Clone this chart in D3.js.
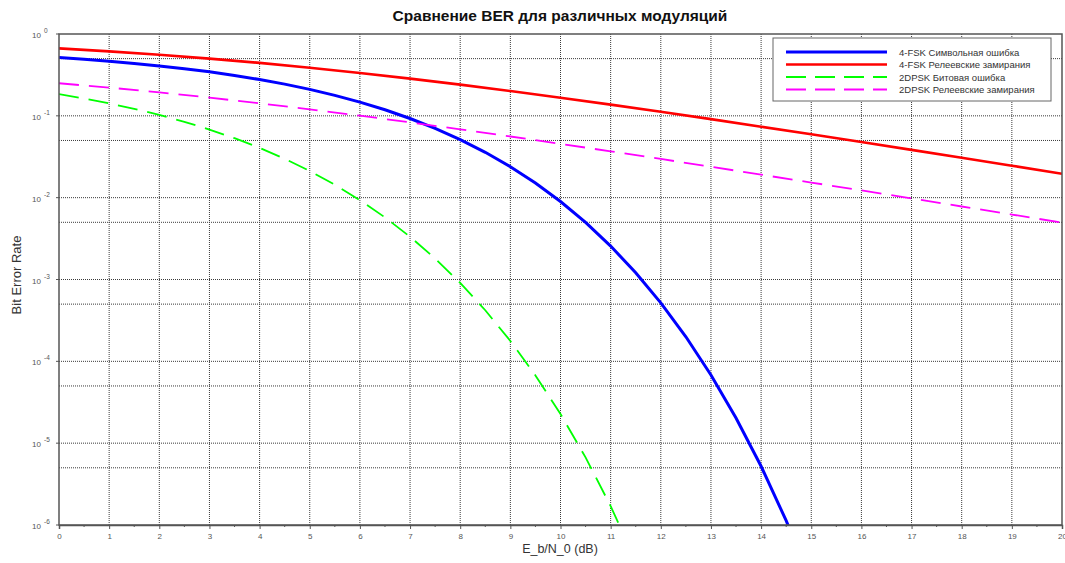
<!DOCTYPE html>
<html>
<head>
<meta charset="utf-8">
<script src="https://cdn.jsdelivr.net/npm/d3@7"></script>
<style>
  body { margin: 0; background: #fff; }
  text { font-family: "Liberation Sans", Arial, sans-serif; }
</style>
</head>
<body>
<svg id="berChart"></svg>
<script>
// SVG
var width1 = 1065;
var height1 = 563;
var plotLeft = 59, plotRight = 1062, plotTop = 34, plotBottom = 525;

// Data
var ebn0 = [0, 1, 2, 3, 4, 5, 6, 7, 8, 9, 10, 11, 12, 13, 14, 15, 16, 17, 18, 19, 20];
var ebn0Fine = [0, 0.5, 1, 1.5, 2, 2.5, 3, 3.5, 4, 4.5, 5, 5.5, 6, 6.5, 7, 7.5, 8, 8.5, 9, 9.5,
    10, 10.5, 11, 11.5, 12, 12.5, 13, 13.5, 14, 14.5, 15];
var fskSymbol = [0.5145, 0.4904, 0.4647, 0.4370, 0.4077, 0.3767, 0.3447, 0.3116, 0.2778, 0.2440,
    0.2104, 0.1780, 0.1472, 0.1187, 0.0928, 0.0703, 0.0513, 0.03585, 0.0239, 0.01509,
    0.00898, 0.004983, 0.002562, 0.00121, 0.000518, 0.0001997, 6.81e-5, 2.03e-5, 5.22e-6, 1.13e-6, 2.04e-7];
var fskRayleigh = [0.667, 0.6137, 0.5579, 0.5006, 0.4433, 0.3874, 0.3344, 0.2852, 0.2407, 0.2011,
    0.1667, 0.1371, 0.1121, 0.0911, 0.0737, 0.0595, 0.0478, 0.0384, 0.0307, 0.0246, 0.0196];
var dpskBit = [0.1839, 0.1628, 0.1420, 0.1218, 0.1025, 0.0845, 0.0680, 0.0533, 0.0406, 0.0299,
    0.02116, 0.01439, 0.00933, 0.00574, 0.003327, 0.001805, 0.000909, 0.000421, 0.0001774, 6.73e-5,
    2.27e-5, 6.70e-6, 1.70e-6, 3.67e-7];
var dpskRayleigh = [0.25, 0.2213, 0.1934, 0.1669, 0.1424, 0.1201, 0.1004, 0.0832, 0.0684, 0.0559,
    0.0455, 0.0368, 0.0297, 0.0239, 0.0191, 0.0153, 0.0123, 0.00978, 0.00780, 0.00622, 0.00495];
var xTicks = [0, 1, 2, 3, 4, 5, 6, 7, 8, 9, 10, 11, 12, 13, 14, 15, 16, 17, 18, 19, 20];
var yExponents = [0, -1, -2, -3, -4, -5, -6];
var seriesNames = ["4-FSK Символьная ошибка", "4-FSK Релеевские замирания",
    "2DPSK Битовая ошибка", "2DPSK Релеевские замирания"];

var series = [
    { name: seriesNames[0], x: ebn0Fine, y: fskSymbol, color: "#0000ff", width: 3, dash: null },
    { name: seriesNames[1], x: ebn0, y: fskRayleigh, color: "#ff0000", width: 2.6, dash: null },
    { name: seriesNames[2], x: ebn0Fine, y: dpskBit, color: "#00ff00", width: 1.8, dash: "20,10" },
    { name: seriesNames[3], x: ebn0, y: dpskRayleigh, color: "#ff00ff", width: 1.8, dash: "20,10" }
];

//Set up svg
var svg = d3.select("#berChart")
    .attr("width", width1)
    .attr("height", height1);

var xScale = d3.scaleLinear().domain([0, 20]).range([plotLeft, plotRight]);
var yScale = d3.scaleLog().domain([1e-6, 1]).range([plotBottom, plotTop]);

// grid: every dB, every decade and 5x decade
var grid = svg.append("g")
    .attr("stroke", "#3a3a3a")
    .attr("stroke-width", 1)
    .attr("stroke-dasharray", "1,1");

grid.selectAll(".vgrid")
    .data(xTicks.slice(1, -1))
    .enter().append("line")
    .attr("x1", d => xScale(d)).attr("x2", d => xScale(d))
    .attr("y1", plotTop).attr("y2", plotBottom);

var yGridVals = [];
yExponents.forEach(e => {
    yGridVals.push(Math.pow(10, e));
    if (e > -6) yGridVals.push(5 * Math.pow(10, e - 1));
});
grid.selectAll(".hgrid")
    .data(yGridVals.filter(v => v < 1 && v > 1e-6))
    .enter().append("line")
    .attr("x1", plotLeft).attr("x2", plotRight)
    .attr("y1", d => yScale(d)).attr("y2", d => yScale(d));

// curves
svg.append("clipPath").attr("id", "plotClip")
    .append("rect")
    .attr("x", plotLeft).attr("y", plotTop)
    .attr("width", plotRight - plotLeft).attr("height", plotBottom - plotTop);

var line = d3.line()
    .x(d => xScale(d[0]))
    .y(d => yScale(d[1]));

svg.append("g")
    .attr("clip-path", "url(#plotClip)")
    .selectAll("path")
    .data(series)
    .enter().append("path")
    .attr("fill", "none")
    .attr("stroke", d => d.color)
    .attr("stroke-width", d => d.width)
    .attr("stroke-dasharray", d => d.dash)
    .attr("d", d => line(d.x.map((v, i) => [v, d.y[i]])));

// frame
svg.append("rect")
    .attr("x", plotLeft).attr("y", plotTop)
    .attr("width", plotRight - plotLeft).attr("height", plotBottom - plotTop)
    .attr("fill", "none")
    .attr("stroke", "#555")
    .attr("stroke-width", 1.5);

// x axis
var xAxis = d3.axisBottom(xScale)
    .tickValues(xTicks)
    .tickSize(4)
    .tickPadding(4)
    .tickFormat(d3.format("d"));

var xAxisDisplay = svg.append("g")
    .attr("transform", "translate(0," + plotBottom + ")")
    .call(xAxis);
xAxisDisplay.select(".domain").attr("stroke", "#555").attr("stroke-width", 1.5);
xAxisDisplay.selectAll(".tick line").attr("stroke", "#555");
xAxisDisplay.selectAll(".tick text")
    .attr("fill", "#555")
    .style("font-size", "8px")
    .style("font-family", "Liberation Sans, Arial, sans-serif");

// minor ticks at half dB
svg.append("g").selectAll("line")
    .data(xTicks.slice(0, -1).map(d => d + 0.5))
    .enter().append("line")
    .attr("x1", d => xScale(d)).attr("x2", d => xScale(d))
    .attr("y1", plotBottom).attr("y2", plotBottom + 2)
    .attr("stroke", "#555");

// y axis labels 10^n
svg.append("g").selectAll("text")
    .data(yExponents)
    .enter().append("text")
    .attr("x", plotLeft - 18)
    .attr("y", d => yScale(Math.pow(10, d)) + 4)
    .attr("text-anchor", "end")
    .attr("fill", "#555")
    .style("font-size", "8px")
    .text("10");

svg.append("g").selectAll("text")
    .data(yExponents)
    .enter().append("text")
    .attr("x", plotLeft - 15)
    .attr("y", d => yScale(Math.pow(10, d)) - 1)
    .attr("fill", "#555")
    .style("font-size", "6.5px")
    .text(d => d === 0 ? "0" : "-" + Math.abs(d));

// y ticks
svg.append("g").selectAll("line")
    .data(yExponents)
    .enter().append("line")
    .attr("x1", plotLeft - 3).attr("x2", plotLeft)
    .attr("y1", d => yScale(Math.pow(10, d))).attr("y2", d => yScale(Math.pow(10, d)))
    .attr("stroke", "#555");

//Display Title
svg.append("text")
    .attr("x", 560)
    .attr("y", 21)
    .attr("text-anchor", "middle")
    .style("font-size", "15.5px")
    .style("font-weight", "bold")
    .attr("fill", "#111")
    .text("Сравнение BER для различных модуляций");

svg.append("text")
    .attr("x", 560)
    .attr("y", 553)
    .attr("text-anchor", "middle")
    .style("font-size", "12.5px")
    .attr("fill", "#333")
    .text("E_b/N_0 (dB)");

svg.append("text")
    .attr("transform", "translate(21,275) rotate(-90)")
    .attr("text-anchor", "middle")
    .style("font-size", "13px")
    .attr("fill", "#333")
    .text("Bit Error Rate");

// legend
var legend = svg.append("g");
legend.append("rect")
    .attr("x", 773).attr("y", 38)
    .attr("width", 278).attr("height", 63)
    .attr("fill", "#fff")
    .attr("stroke", "#666")
    .attr("stroke-width", 1);

var rows = legend.selectAll(".row")
    .data(series)
    .enter().append("g")
    .attr("transform", (d, i) => "translate(0," + (52 + i * 12.5) + ")");

rows.append("line")
    .attr("x1", 786).attr("x2", 887)
    .attr("stroke", d => d.color)
    .attr("stroke-width", d => d.width)
    .attr("stroke-dasharray", d => d.dash ? "20,9" : null);

rows.append("text")
    .attr("x", 899)
    .attr("y", 3.5)
    .attr("fill", "#333")
    .style("font-size", "9.5px")
    .text(d => d.name);
</script>
</body>
</html>
